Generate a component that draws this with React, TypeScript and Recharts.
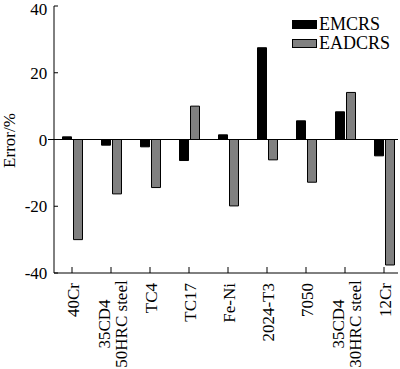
import React from "react";
import {
  BarChart,
  Bar,
  XAxis,
  YAxis,
  ReferenceLine,
  Legend,
  Label,
} from "recharts";

const categories = [
  "40Cr",
  "35CD4\n50HRC steel",
  "TC4",
  "TC17",
  "Fe-Ni",
  "2024-T3",
  "7050",
  "35CD4\n30HRC steel",
  "12Cr",
];
const emcrs = [0.8, -1.7, -2.2, -6.3, 1.4, 27.5, 5.6, 8.3, -4.9];
const eadcrs = [-30.0, -16.3, -14.4, 10.0, -19.9, -6.1, -12.8, 14.1, -37.6];
const yTicks = [-40, -20, 0, 20, 40];
const seriesNames = ["EMCRS", "EADCRS"];
const yLabel = "Error/%";

const data = categories.map((name, i) => ({
  name,
  emcrs: emcrs[i],
  eadcrs: eadcrs[i],
}));

const FONT = "'Liberation Serif', 'Times New Roman', serif";
const W = 400;
const H = 369;
const PLOT_LEFT = 54;
const PLOT_TOP = 6;
const PLOT_BOTTOM = 273;
const PLOT_RIGHT = 398;
const GRAY = "#808080";

const XTick = (props: any) => {
  const { x, payload } = props;
  const lines = String(payload.value).split("\n");
  const top = PLOT_BOTTOM + 10;
  if (lines.length === 1) {
    return (
      <text
        transform={`translate(${x},${top}) rotate(-90)`}
        x={0}
        y={6.5}
        textAnchor="end"
        fontFamily={FONT}
        fontSize={17}
        fill="#000"
      >
        {lines[0]}
      </text>
    );
  }
  return (
    <text
      transform={`translate(${x},${top}) rotate(-90)`}
      textAnchor="middle"
      fontFamily={FONT}
      fontSize={17}
      fill="#000"
    >
      {lines.map((l, i) => (
        <tspan key={i} x={-41} y={-1.5 + i * 17}>
          {l}
        </tspan>
      ))}
    </text>
  );
};

const YTick = (props: any) => {
  const { y, payload } = props;
  return (
    <g>
      {payload.value === 0 && (
        <line x1={PLOT_LEFT - 6} x2={PLOT_LEFT} y1={y} y2={y} stroke="#000" />
      )}
      <text
        x={PLOT_LEFT - 6.7}
        y={y}
        dy="0.355em"
        textAnchor="end"
        fontFamily={FONT}
        fontSize={17}
        fill="#000"
      >
        {payload.value}
      </text>
    </g>
  );
};

const LegendContent = () => (
  <div style={{ fontFamily: FONT, fontSize: 18, color: "#000", lineHeight: "19.5px" }}>
    {seriesNames.map((n, i) => (
      <div key={n} style={{ display: "flex", alignItems: "center", height: 19.5 }}>
        <div
          style={{
            width: 25,
            height: 9,
            boxSizing: "border-box",
            background: i === 0 ? "#000" : GRAY,
            border: "1px solid #000",
            marginRight: 2,
          }}
        />
        <span>{n}</span>
      </div>
    ))}
  </div>
);

export default function App() {
  return (
    <div style={{ position: "absolute", left: 0, top: 0, width: W, height: H, background: "#fff" }}>
      <BarChart
        width={W}
        height={H}
        data={data}
        margin={{ top: PLOT_TOP, right: W - PLOT_RIGHT, left: 0, bottom: 0 }}
        barSize={9}
        barGap={2}
      >
        <XAxis
          dataKey="name"
          type="category"
          interval={0}
          height={H - PLOT_BOTTOM}
          padding={{ left: -1.5, right: -5.5 }}
          tickSize={-6}
          tickLine={{ stroke: "#000" }}
          axisLine={{ stroke: "#000" }}
          tick={<XTick />}
        />
        <XAxis
          xAxisId="top"
          dataKey="name"
          orientation="top"
          height={0}
          tick={false}
          tickLine={false}
          axisLine={{ stroke: "#000" }}
        />
        <YAxis
          domain={[-40, 40]}
          ticks={yTicks}
          width={PLOT_LEFT}
          tickSize={-4}
          tickLine={{ stroke: "#000" }}
          axisLine={{ stroke: "#000" }}
          tick={<YTick />}
          allowDataOverflow
        >
          <Label
            content={() => (
              <text
                transform={`translate(14.5,140.5) rotate(-90)`}
                textAnchor="middle"
                fontFamily={FONT}
                fontSize={17}
                fill="#000"
              >
                {yLabel}
              </text>
            )}
          />
        </YAxis>
        <YAxis
          yAxisId="right"
          orientation="right"
          domain={[-40, 40]}
          width={0}
          tick={false}
          tickLine={false}
          axisLine={{ stroke: "#000" }}
        />
        <ReferenceLine y={0} stroke="#000" />
        <Legend
          layout="vertical"
          align="center"
          verticalAlign="middle"
          content={<LegendContent />}
          wrapperStyle={{ top: 14.5, left: 292, width: 110 }}
        />
        <Bar
          dataKey="emcrs"
          name={seriesNames[0]}
          fill="#000"
          stroke="#000"
          strokeWidth={1}
          isAnimationActive={false}
        />
        <Bar
          dataKey="eadcrs"
          name={seriesNames[1]}
          fill={GRAY}
          stroke="#000"
          strokeWidth={1}
          isAnimationActive={false}
        />
      </BarChart>
    </div>
  );
}
